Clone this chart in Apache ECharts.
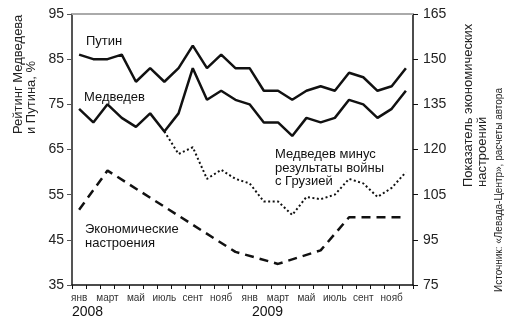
<!DOCTYPE html>
<html>
<head>
<meta charset="utf-8">
<script src="https://cdn.jsdelivr.net/npm/echarts@6/dist/echarts.min.js"></script>
<style>
html,body{margin:0;padding:0;background:#fff;}
#c{width:525px;height:326px;}
</style>
</head>
<body>
<div id="c"></div>
<script>
var months = ['янв','фев','март','апр','май','июнь','июль','авг','сент','окт','нояб','дек',
              'янв','фев','март','апр','май','июнь','июль','авг','сент','окт','нояб','дек'];
var years = ['2008','2009'];
var putin    = [86,85,85,86,80,83,80,83,88,83,86,83,83,78,78,76,78,79,78,82,81,78,79,83];
var medvedev = [74,71,75,72,70,73,69,73,83,76,78,76,75,71,71,68,72,71,72,76,75,72,74,78];
var medvedevMinusWar = [null,null,null,null,null,null,69,64,65.5,58.5,60.5,58.5,57.5,53.5,53.5,50.5,54.5,54,55,58.5,57.5,54.5,56.5,60];
var econMood = [100,null,113,null,null,null,null,null,null,null,null,86,null,null,82,null,null,86.5,null,97.5,null,null,null,97.5];
var leftTicks = ['35','45','55','65','75','85','95'];
var rightTicks = ['75','95','105','120','135','150','165'];

var FONT = '"Liberation Sans", Arial, Helvetica, sans-serif';
var chart = echarts.init(document.getElementById('c'), null, {renderer:'canvas'});

var option = {
  animation:false,
  backgroundColor:'#fff',
  grid:{left:72,right:112,top:14,bottom:41},
  xAxis:[{
    type:'category', data:months, boundaryGap:true,
    axisLine:{lineStyle:{color:'#111',width:1.5}},
    axisTick:{show:true,interval:0,length:4,lineStyle:{color:'#111',width:1}},
    axisLabel:{interval:1,fontSize:10,color:'#333',fontFamily:FONT,margin:8}
  },{
    type:'category', data:months, position:'top', boundaryGap:true,
    axisLine:{lineStyle:{color:'#aaa',width:2}},
    axisTick:{show:false}, axisLabel:{show:false}
  }],
  yAxis:[{
    type:'value', min:35, max:95, interval:10, position:'left',
    axisLine:{show:true,lineStyle:{color:'#555',width:2}},
    axisTick:{show:true,length:5,lineStyle:{color:'#555',width:1}},
    splitLine:{show:false},
    axisLabel:{fontSize:14,color:'#222',fontFamily:FONT,margin:8,
      formatter:function(v,i){return leftTicks[i];}}
  },{
    type:'value', min:75, max:165, interval:15, position:'right',
    axisLine:{show:true,lineStyle:{color:'#111',width:1.5}},
    axisTick:{show:true,length:5,lineStyle:{color:'#111',width:1}},
    splitLine:{show:false},
    axisLabel:{fontSize:14,color:'#222',fontFamily:FONT,margin:10,
      formatter:function(v,i){return rightTicks[i];}}
  }],
  series:[
    {type:'line',name:'Путин',data:putin,yAxisIndex:0,symbol:'none',
     lineStyle:{color:'#111',width:2.5},z:3},
    {type:'line',name:'Медведев',data:medvedev,yAxisIndex:0,symbol:'none',
     lineStyle:{color:'#111',width:2.5},z:3},
    {type:'line',name:'Медведев минус результаты войны с Грузией',data:medvedevMinusWar,yAxisIndex:0,symbol:'none',
     lineStyle:{color:'#111',width:2,type:[2,2.5]},z:2},
    {type:'line',name:'Экономические настроения',data:econMood,yAxisIndex:1,symbol:'none',connectNulls:true,
     lineStyle:{color:'#111',width:2.5,type:[9,6]},z:2}
  ],
  graphic:[
    {type:'text',x:86,y:41,style:{text:'Путин',fontSize:13,fontFamily:FONT,fill:'#111',textVerticalAlign:'middle'}},
    {type:'text',x:84,y:97,style:{text:'Медведев',fontSize:13,fontFamily:FONT,fill:'#111',textVerticalAlign:'middle'}},
    {type:'text',x:275,y:148,style:{text:'Медведев минус\nрезультаты войны\nс Грузией',fontSize:13,lineHeight:13.5,fontFamily:FONT,fill:'#111',textVerticalAlign:'top'}},
    {type:'text',x:85,y:223,style:{text:'Экономические\nнастроения',fontSize:13,lineHeight:13.5,fontFamily:FONT,fill:'#111',textVerticalAlign:'top'}},
    {type:'text',x:72,y:305,style:{text:years[0],fontSize:14,fontFamily:FONT,fill:'#111',textVerticalAlign:'top'}},
    {type:'text',x:252,y:305,style:{text:years[1],fontSize:14,fontFamily:FONT,fill:'#111',textVerticalAlign:'top'}},
    {type:'text',x:12,y:134,rotation:Math.PI/2,style:{text:'Рейтинг Медведева\nи Путина, %',fontSize:13,lineHeight:13,fontFamily:FONT,fill:'#222',textAlign:'left',textVerticalAlign:'top'}},
    {type:'text',x:461,y:187,rotation:Math.PI/2,style:{text:'Показатель экономических\nнастроений',fontSize:13,lineHeight:14,fontFamily:FONT,fill:'#222',textAlign:'left',textVerticalAlign:'top'}},
    {type:'text',x:494,y:292,rotation:Math.PI/2,style:{text:'Источник: «Левада-Центр», расчеты автора',fontSize:10,fontFamily:FONT,fill:'#222',textAlign:'left',textVerticalAlign:'top'}}
  ]
};
chart.setOption(option);
</script>
</body>
</html>
